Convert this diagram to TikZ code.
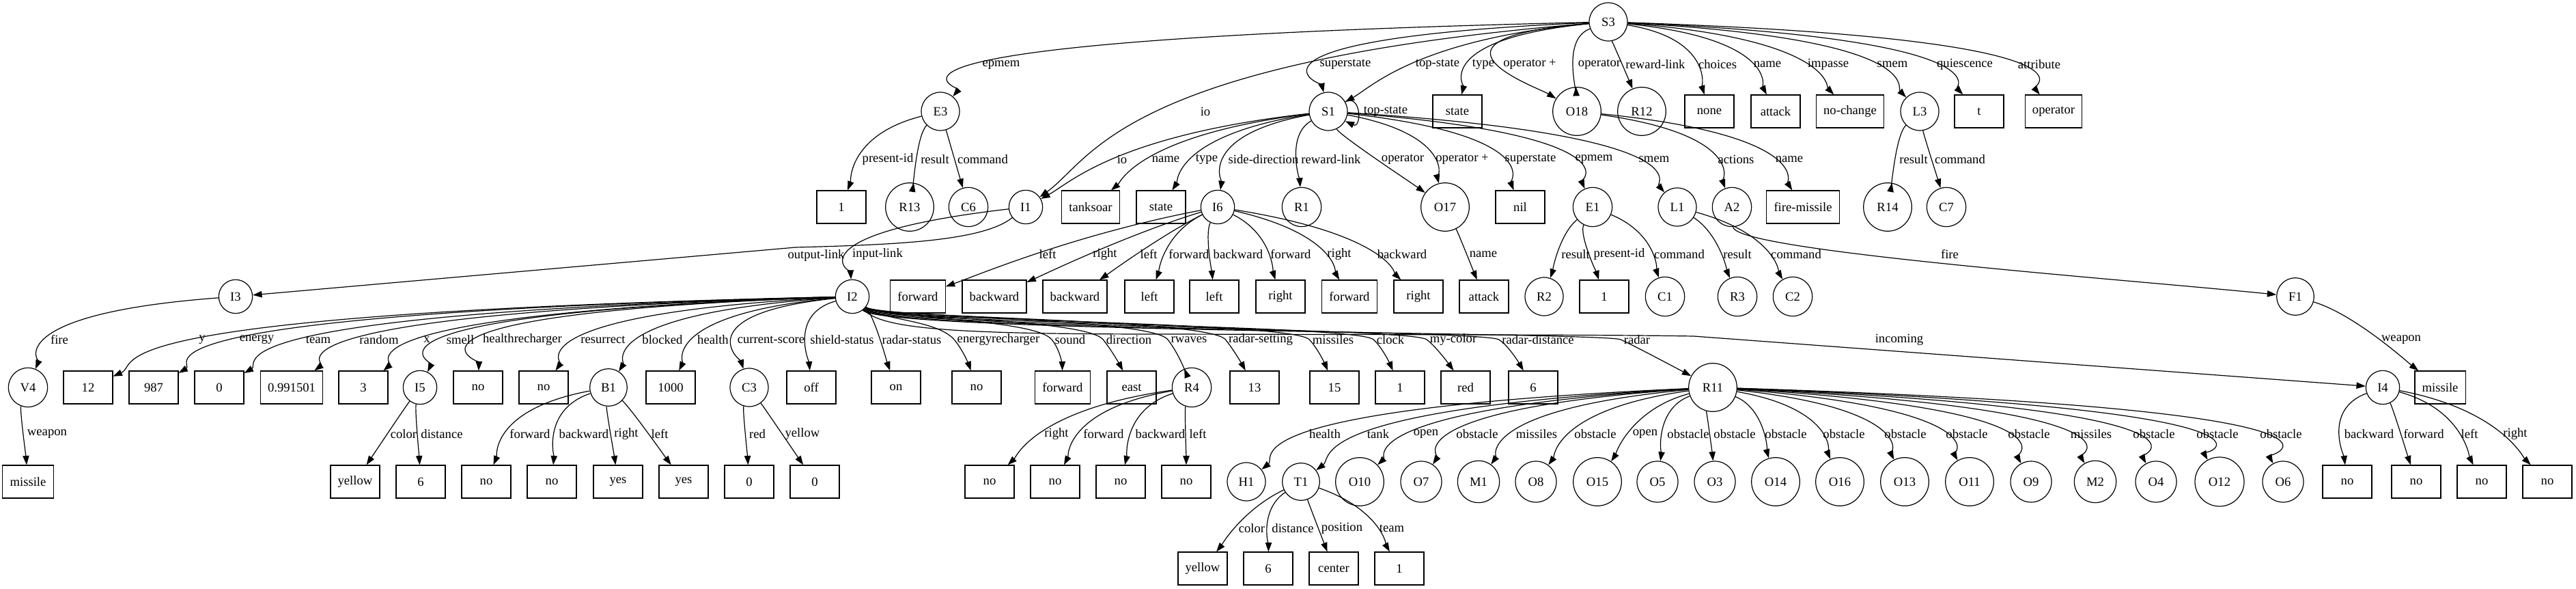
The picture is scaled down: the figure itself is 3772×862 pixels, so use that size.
\documentclass[tikz,border=0pt]{standalone}
\usepackage{fontspec}
\setmainfont{Liberation Serif}
\usetikzlibrary{arrows.meta,calc}
\tikzset{
  base/.style={draw, line width=0.9pt, font=\fontsize{14pt}{16pt}\selectfont},
  bx/.style={base, rectangle, minimum width=54pt, minimum height=36pt, inner xsep=8pt, inner ysep=0pt},
  cn/.style={base, circle, inner sep=0pt, minimum size=#1},
  cn/.default=42pt,
  el/.style={inner sep=1pt, font=\fontsize{14pt}{16pt}\selectfont},
  ar/.style={line width=0.9pt, -{Triangle[length=10pt,width=7pt]}},
}
\newcommand\grCurve[2]{%
  \coordinate (gc2) at ($(#2)!0.5!(gw)$);
  \coordinate (gc1) at ($2.1667*(gw)-0.3333*(#1)-0.8333*(#2)$);
  \draw[ar] (#1) .. controls (gc1) and (gc2) .. (#2);}
\newcommand\grEdge[5]{%
  \node[el] (#3) at (#5) {#4};
  \coordinate (gw) at ($(#3.west)+(-3,0)$);
  \grCurve{#1}{#2}}
\newcommand\grEdgeW[6]{%
  \node[el] (#3) at (#5) {#4};
  \coordinate (gw) at (#6);
  \grCurve{#1}{#2}}
% corridor edge: runs along y=#6 before bending down past the label
\newcommand\grEdgeC[6]{%
  \node[el] (#3) at (#5) {#4};
  \coordinate (gw) at ($(#3.west)+(-3,0)$);
  \coordinate (gy) at (0,#6);
  \coordinate (gc1) at ($(#1 |- gy)!30pt!(gw |- gy)$);
  \coordinate (gc2) at ($(gw |- gy)!18.75pt!(#1 |- gy)$);
  \coordinate (gc3) at ($(gw)!-0.6!(gc2)$);
  \coordinate (gc4) at ($(#2)!0.5!(gc3)$);
  \draw[ar] (#1) .. controls (gc1) and (gc2) .. (gw) .. controls (gc3) and (gc4) .. (#2);}
\begin{document}
\begin{tikzpicture}[x=0.75pt,y=-0.75pt]
\useasboundingbox (0,0) rectangle (3772,862);
% row 0
\node[cn] (S3) at (2355,32) {S3};
% row 1
\node[cn] (E3) at (1377,163) {E3};
\node[cn] (S1) at (1945,163) {S1};
\node[bx] (st1) at (2134,163) {state};
\node[cn=53pt] (O18) at (2309,163) {O18};
\node[cn=53pt] (R12) at (2404,163) {R12};
\node[bx] (none) at (2503,163) {none};
\node[bx] (att1) at (2600,163) {attack};
\node[bx] (noch) at (2709,163) {no-change};
\node[cn] (L3) at (2811,163) {L3};
\node[bx] (tt) at (2898,163) {t};
\node[bx] (oper) at (3007,163) {operator};
% row 2
\node[bx] (one1) at (1232,303) {1};
\node[cn=53pt] (R13) at (1332,303) {R13};
\node[cn=43pt] (C6) at (1418,303) {C6};
\node[cn=37pt] (I1) at (1502,303) {I1};
\node[bx] (tank) at (1597,303) {tanksoar};
\node[bx] (st2) at (1700,303) {state};
\node[cn=37pt] (I6) at (1783,303) {I6};
\node[cn=43pt] (R1) at (1906,303) {R1};
\node[cn=53pt] (O17) at (2116,303) {O17};
\node[bx] (nil) at (2226,303) {nil};
\node[cn=43pt] (E1) at (2332,303) {E1};
\node[cn] (L1) at (2456,303) {L1};
\node[cn=43pt] (A2) at (2536,303) {A2};
\node[bx] (fm) at (2640,303) {fire-missile};
\node[cn=53pt] (R14) at (2764,303) {R14};
\node[cn=43pt] (C7) at (2850,303) {C7};
% row 3
\node[cn=37pt] (I3) at (345,434) {I3};
\node[cn=37pt] (I2) at (1248,434) {I2};
\node[bx] (d1) at (1344,434) {forward};
\node[bx] (d2) at (1456,434) {backward};
\node[bx] (d3) at (1574,434) {backward};
\node[bx] (d4) at (1683,434) {left};
\node[bx] (d5) at (1778,434) {left};
\node[bx] (d6) at (1875,434) {right};
\node[bx] (d7) at (1976,434) {forward};
\node[bx] (d8) at (2077,434) {right};
\node[bx] (att2) at (2173,434) {attack};
\node[cn] (R2) at (2261,434) {R2};
\node[bx] (one2) at (2349,434) {1};
\node[cn=43pt] (C1) at (2438,434) {C1};
\node[cn=43pt] (R3) at (2544,434) {R3};
\node[cn=43pt] (C2) at (2625,434) {C2};
\node[cn=41pt] (F1) at (3361,434) {F1};
% row 4
\node[cn=43pt] (V4) at (41,567) {V4};
\node[bx] (v12) at (129,567) {12};
\node[bx] (v987) at (225,567) {987};
\node[bx] (v0) at (321,567) {0};
\node[bx] (vrand) at (427,567) {0.991501};
\node[bx] (v3) at (532,567) {3};
\node[cn=37pt] (I5) at (615,567) {I5};
\node[bx] (vno1) at (700,567) {no};
\node[bx] (vno2) at (796,567) {no};
\node[cn=41pt] (B1) at (891,567) {B1};
\node[bx] (v1000) at (982,567) {1000};
\node[cn] (C3) at (1097,567) {C3};
\node[bx] (voff) at (1188,567) {off};
\node[bx] (von) at (1312,567) {on};
\node[bx] (vno3) at (1430,567) {no};
\node[bx] (vfwd) at (1556,567) {forward};
\node[bx] (veast) at (1657,567) {east};
\node[cn=43pt] (R4) at (1745,567) {R4};
\node[bx] (v13) at (1837,567) {13};
\node[bx] (v15) at (1954,567) {15};
\node[bx] (vone) at (2050,567) {1};
\node[bx] (vred) at (2146,567) {red};
\node[bx] (vsix) at (2245,567) {6};
\node[cn=53pt] (R11) at (2508,567) {R11};
\node[cn=37pt] (I4) at (3489,567) {I4};
\node[bx] (mis2) at (3573,567) {missile};
% row 5
\node[bx] (mis1) at (41,705) {missile};
\node[bx] (yel1) at (520,705) {yellow};
\node[bx] (six1) at (616,705) {6};
\node[bx] (bn1) at (712,705) {no};
\node[bx] (bn2) at (808,705) {no};
\node[bx] (by1) at (905,705) {yes};
\node[bx] (by2) at (1001,705) {yes};
\node[bx] (cz1) at (1097,705) {0};
\node[bx] (cz2) at (1193,705) {0};
\node[bx] (rn1) at (1449,705) {no};
\node[bx] (rn2) at (1545,705) {no};
\node[bx] (rn3) at (1641,705) {no};
\node[bx] (rn4) at (1737,705) {no};
\node[cn] (H1) at (1825,705) {H1};
\node[cn=41pt] (T1) at (1905,705) {T1};
\node[cn=53pt] (O10) at (1991,705) {O10};
\node[cn=45pt] (O7) at (2081,705) {O7};
\node[cn=46pt] (M1) at (2165,705) {M1};
\node[cn=45pt] (O8) at (2249,705) {O8};
\node[cn=53pt] (O15) at (2339,705) {O15};
\node[cn=45pt] (O5) at (2427,705) {O5};
\node[cn=45pt] (O3) at (2511,705) {O3};
\node[cn=53pt] (O14) at (2600,705) {O14};
\node[cn=53pt] (O16) at (2694,705) {O16};
\node[cn=53pt] (O13) at (2789,705) {O13};
\node[cn=53pt] (O11) at (2884,705) {O11};
\node[cn=45pt] (O9) at (2974,705) {O9};
\node[cn=46pt] (M2) at (3068,705) {M2};
\node[cn=45pt] (O4) at (3157,705) {O4};
\node[cn=54pt] (O12) at (3250,705) {O12};
\node[cn=45pt] (O6) at (3343,705) {O6};
\node[bx] (in1) at (3437,705) {no};
\node[bx] (in2) at (3538,705) {no};
\node[bx] (in3) at (3634,705) {no};
\node[bx] (in4) at (3730,705) {no};
% row 6
\node[bx] (yel2) at (1761,832) {yellow};
\node[bx] (six2) at (1857,832) {6};
\node[bx] (cen) at (1953,832) {center};
\node[bx] (one3) at (2049,832) {1};
% ---------------- edges
\grEdge{S3}{E3}{l1}{epmem}{1466,95}
\grEdgeW{S3}{I1}{l2}{io}{1765,163}{1697,163}
\grEdge{S3}{S1}{l3}{superstate}{1970,94}
\grEdge{S3}{S1}{l4}{top-state}{2105,94}
\grEdge{S3}{st1}{l5}{type}{2172,94}
\grEdge{S3}{O18}{l6}{operator +}{2240,94}
\grEdge{S3}{O18}{l7}{operator}{2342,94}
\grEdge{S3}{R12}{l8}{reward-link}{2424,94}
\grEdge{S3}{none}{l9}{choices}{2515,94}
\grEdge{S3}{att1}{l10}{name}{2588,94}
\grEdge{S3}{noch}{l11}{impasse}{2677,94}
\grEdge{S3}{L3}{l12}{smem}{2771,94}
\grEdge{S3}{tt}{l13}{quiescence}{2877,94}
\grEdge{S3}{oper}{l14}{attribute}{2986,94}
\grEdge{E3}{one1}{l15}{present-id}{1300,233}
\grEdge{E3}{R13}{l16}{result}{1369,233}
\grEdge{E3}{C6}{l17}{command}{1439,233}
\grEdge{S1}{I1}{l18}{io}{1643,233}
\grEdge{S1}{tank}{l19}{name}{1707,233}
\grEdge{S1}{st2}{l20}{type}{1767,233}
\grEdge{S1}{I6}{l21}{side-direction}{1850,233}
\grEdge{S1}{R1}{l22}{reward-link}{1949,233}
\grEdge{S1}{O17}{l23}{operator}{2054,233}
\grEdge{S1}{O17}{l24}{operator +}{2141,233}
\grEdge{S1}{nil}{l25}{superstate}{2241,233}
\grEdge{S1}{E1}{l26}{epmem}{2334,233}
\grEdge{S1}{L1}{l27}{smem}{2422,233}
\node[el] (l28) at (2029,163) {top-state};
\draw[ar] (S1.30) .. controls +(25:20pt) and +(-25:20pt) .. (S1.-30);
\grEdge{O18}{A2}{l29}{actions}{2542,233}
\grEdge{O18}{fm}{l30}{name}{2620,233}
\grEdge{L3}{R14}{l31}{result}{2802,233}
\grEdge{L3}{C7}{l32}{command}{2870,233}
\node[el] (l33) at (1195,374) {output-link};
\coordinate (oc) at (1165,362);
\draw[ar] (I1) .. controls (1440,352) and (1320,358) .. (oc) -- (I3);
\grEdge{I1}{I2}{l34}{input-link}{1285,372}
\grEdge{I6}{d1}{l35}{left}{1534,372}
\grEdge{I6}{d2}{l36}{right}{1618,372}
\grEdge{I6}{d3}{l37}{left}{1682,372}
\grEdge{I6}{d4}{l38}{forward}{1741,372}
\grEdge{I6}{d5}{l39}{backward}{1813,372}
\grEdge{I6}{d6}{l40}{forward}{1890,372}
\grEdge{I6}{d7}{l41}{right}{1961,372}
\grEdge{I6}{d8}{l42}{backward}{2053,372}
\grEdge{O17}{att2}{l43}{name}{2172,372}
\grEdge{E1}{R2}{l44}{result}{2307,372}
\grEdge{E1}{one2}{l45}{present-id}{2371,372}
\grEdge{E1}{C1}{l46}{command}{2459,372}
\grEdge{L1}{R3}{l47}{result}{2544,372}
\grEdge{L1}{C2}{l48}{command}{2630,372}
\grEdgeW{A2}{F1}{l49}{fire}{2855,372}{2855,383}
\grEdge{I3}{V4}{l50}{fire}{87,497}
\grEdge{I2}{v12}{l51}{y}{296,497}
\grEdge{I2}{v987}{l52}{energy}{376,497}
\grEdge{I2}{v0}{l53}{team}{466,497}
\grEdge{I2}{vrand}{l54}{random}{555,497}
\grEdge{I2}{v3}{l55}{x}{625,497}
\grEdge{I2}{I5}{l56}{smell}{674,497}
\grEdge{I2}{vno1}{l57}{healthrecharger}{765,497}
\grEdge{I2}{vno2}{l58}{resurrect}{883,497}
\grEdge{I2}{B1}{l59}{blocked}{970,497}
\grEdge{I2}{v1000}{l60}{health}{1044,497}
\grEdge{I2}{C3}{l61}{current-score}{1129,497}
\grEdge{I2}{voff}{l62}{shield-status}{1233,497}
\grEdge{I2}{von}{l63}{radar-status}{1335,497}
\grEdgeC{I2}{vno3}{l64}{energyrecharger}{1462,497}{468}
\grEdgeC{I2}{vfwd}{l65}{sound}{1567,497}{466}
\grEdgeC{I2}{veast}{l66}{direction}{1653,497}{466}
\grEdgeC{I2}{R4}{l67}{rwaves}{1741,497}{465}
\grEdgeC{I2}{v13}{l68}{radar-setting}{1846,497}{466}
\grEdgeC{I2}{v15}{l69}{missiles}{1952,497}{470}
\grEdgeC{I2}{vone}{l70}{clock}{2036,497}{474}
\grEdgeC{I2}{vred}{l71}{my-color}{2128,497}{478}
\grEdgeC{I2}{vsix}{l72}{radar-distance}{2252,497}{482}
\grEdgeC{I2}{R11}{l73}{radar}{2397,497}{486}
\node[el] (l74) at (2781,497) {incoming};
\draw[ar] (I2) .. controls (1290,482) and (1400,489) .. (1700,489) .. controls (2200,490) and (2350,490) .. (2480,492) -- (I4);
\grEdge{V4}{mis1}{l75}{weapon}{69,635}
\grEdge{I5}{yel1}{l76}{color}{591,635}
\grEdge{I5}{six1}{l77}{distance}{647,635}
\grEdge{B1}{bn1}{l78}{forward}{776,635}
\grEdge{B1}{bn2}{l79}{backward}{855,635}
\grEdge{B1}{by1}{l80}{right}{917,635}
\grEdge{B1}{by2}{l81}{left}{966,635}
\grEdge{C3}{cz1}{l82}{red}{1109,635}
\grEdge{C3}{cz2}{l83}{yellow}{1175,635}
\grEdge{R4}{rn1}{l84}{right}{1547,635}
\grEdge{R4}{rn2}{l85}{forward}{1616,635}
\grEdge{R4}{rn3}{l86}{backward}{1699,635}
\grEdge{R4}{rn4}{l87}{left}{1754,635}
\grEdge{R11}{H1}{l88}{health}{1940,635}
\grEdge{R11}{T1}{l89}{tank}{2018,635}
\grEdge{R11}{O10}{l90}{open}{2088,635}
\grEdge{R11}{O7}{l91}{obstacle}{2163,635}
\grEdge{R11}{M1}{l92}{missiles}{2250,635}
\grEdge{R11}{O8}{l93}{obstacle}{2336,635}
\grEdge{R11}{O15}{l94}{open}{2409,635}
\grEdge{R11}{O5}{l95}{obstacle}{2472,635}
\grEdge{R11}{O3}{l96}{obstacle}{2540,635}
\grEdge{R11}{O14}{l97}{obstacle}{2615,635}
\grEdge{R11}{O16}{l98}{obstacle}{2700,635}
\grEdge{R11}{O13}{l99}{obstacle}{2790,635}
\grEdge{R11}{O11}{l100}{obstacle}{2880,635}
\grEdge{R11}{O9}{l101}{obstacle}{2971,635}
\grEdge{R11}{M2}{l102}{missiles}{3062,635}
\grEdge{R11}{O4}{l103}{obstacle}{3154,635}
\grEdge{R11}{O12}{l104}{obstacle}{3247,635}
\grEdge{R11}{O6}{l105}{obstacle}{3340,635}
\grEdge{I4}{in1}{l106}{backward}{3469,635}
\grEdge{I4}{in2}{l107}{forward}{3549,635}
\grEdge{I4}{in3}{l108}{left}{3616,635}
\grEdge{I4}{in4}{l109}{right}{3683,635}
\grEdge{F1}{mis2}{l110}{weapon}{3516,497}
\grEdge{T1}{yel2}{l111}{color}{1833,773}
\grEdge{T1}{six2}{l112}{distance}{1893,773}
\grEdge{T1}{cen}{l113}{position}{1965,773}
\grEdge{T1}{one3}{l114}{team}{2038,773}
\end{tikzpicture}
\end{document}
